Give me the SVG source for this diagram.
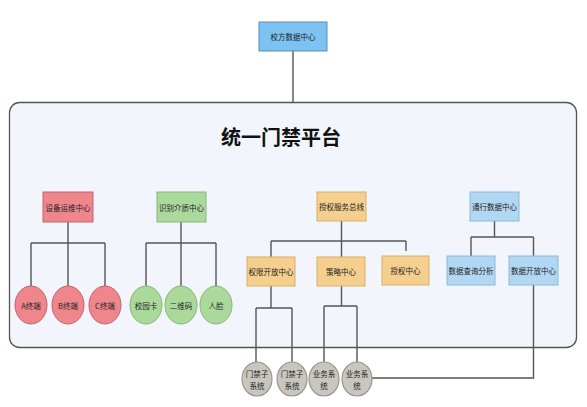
<svg xmlns="http://www.w3.org/2000/svg" width="587" height="407" viewBox="0 0 587 407">
<style>
text{font-family:"Noto Sans CJK SC","Liberation Sans",sans-serif;font-size:7.5px;fill:#222;text-anchor:middle;dominant-baseline:central}
.title{font-size:20px;font-weight:bold;fill:#111}
.ln{fill:none;stroke:#555;stroke-width:1.4}
.top{fill:#7cc2f2;stroke:#5b8db5;stroke-width:1}
.red{fill:#ef868c;stroke:#c4636b;stroke-width:1}
.grn{fill:#abd99c;stroke:#86b776;stroke-width:1}
.org{fill:#f5cf8e;stroke:#d9ad66;stroke-width:1}
.blu{fill:#b2d7f3;stroke:#8bb8dc;stroke-width:1}
.gry{fill:#c9c6c0;stroke:#9b978f;stroke-width:1.2}
</style>
<rect width="587" height="407" fill="#ffffff"/>
<g id="platform">
<rect x="9.5" y="102.5" width="567" height="245" rx="10" fill="#f2f6fc" stroke="#555" stroke-width="1.3"/>
<text class="title" x="281" y="136">统一门禁平台</text>
</g>
<g id="connectors">
<path class="ln" d="M293 51V102.5"/>
<path class="ln" d="M68 222V243M31 243H105M31 243V287M68 243V287M105 243V287"/>
<path class="ln" d="M181 222V243M146 243H216M146 243V287M181 243V287M216 243V287"/>
<path class="ln" d="M341.5 221V241M271 241H406M271 241V257M341.5 241V257M406 241V251"/>
<path class="ln" d="M494.5 221V237M471 237H533.5M471 237V256M533.5 237V256"/>
<path class="ln" d="M271 286V308M256 308H292M256 308V362M292 308V362"/>
<path class="ln" d="M341.5 286V306M324 306H357M324 306V362M357 306V362"/>
<path class="ln" d="M533.5 285V378H372"/>
</g>
<g id="n-top"><rect class="top" x="259" y="22" width="68" height="29"/><text x="293" y="36.5">校方数据中心</text></g>
<g id="n-shebei"><rect class="red" x="43" y="192" width="50" height="30"/><text x="68" y="207">设备运维中心</text></g>
<g id="n-shibie"><rect class="grn" x="157" y="192" width="49" height="30"/><text x="181.5" y="207">识别介质中心</text></g>
<g id="n-shouquan-bus"><rect class="org" x="317" y="192" width="49" height="29"/><text x="341.5" y="206.5">授权服务总线</text></g>
<g id="n-tongxing"><rect class="blu" x="470" y="192" width="49" height="29"/><text x="494.5" y="206.5">通行数据中心</text></g>
<g id="n-quanxian"><rect class="org" x="247" y="257" width="48" height="29"/><text x="271" y="271.5">权限开放中心</text></g>
<g id="n-celue"><rect class="org" x="317" y="257" width="48" height="29"/><text x="341" y="271.5">策略中心</text></g>
<g id="n-shouquan"><rect class="org" x="382" y="256" width="47" height="29"/><text x="405.5" y="270.5">授权中心</text></g>
<g id="n-chaxun"><rect class="blu" x="447" y="256" width="48" height="29"/><text x="471" y="270.5">数据查询分析</text></g>
<g id="n-kaifang"><rect class="blu" x="509" y="256" width="49" height="29"/><text x="533.5" y="270.5">数据开放中心</text></g>
<g id="n-a"><ellipse class="red" cx="31" cy="305" rx="16" ry="19"/><text x="31" y="305">A终端</text></g>
<g id="n-b"><ellipse class="red" cx="68" cy="305" rx="16" ry="19"/><text x="68" y="305">B终端</text></g>
<g id="n-c"><ellipse class="red" cx="105" cy="305" rx="16" ry="19"/><text x="105" y="305">C终端</text></g>
<g id="n-card"><ellipse class="grn" cx="146" cy="305" rx="16" ry="19"/><text x="146" y="305">校园卡</text></g>
<g id="n-qr"><ellipse class="grn" cx="181" cy="305" rx="16" ry="19"/><text x="181" y="305">二维码</text></g>
<g id="n-face"><ellipse class="grn" cx="216" cy="305" rx="16" ry="19"/><text x="216" y="305">人脸</text></g>
<g id="n-mj1"><ellipse class="gry" cx="257" cy="379" rx="15" ry="17"/><text x="257" y="373">门禁子</text><text x="257" y="385">系统</text></g>
<g id="n-mj2"><ellipse class="gry" cx="292" cy="379" rx="15" ry="17"/><text x="292" y="373">门禁子</text><text x="292" y="385">系统</text></g>
<g id="n-yw1"><ellipse class="gry" cx="324" cy="379" rx="15" ry="17"/><text x="324" y="373">业务系</text><text x="324" y="385">统</text></g>
<g id="n-yw2"><ellipse class="gry" cx="357" cy="379" rx="15" ry="17"/><text x="357" y="373">业务系</text><text x="357" y="385">统</text></g>
</svg>
